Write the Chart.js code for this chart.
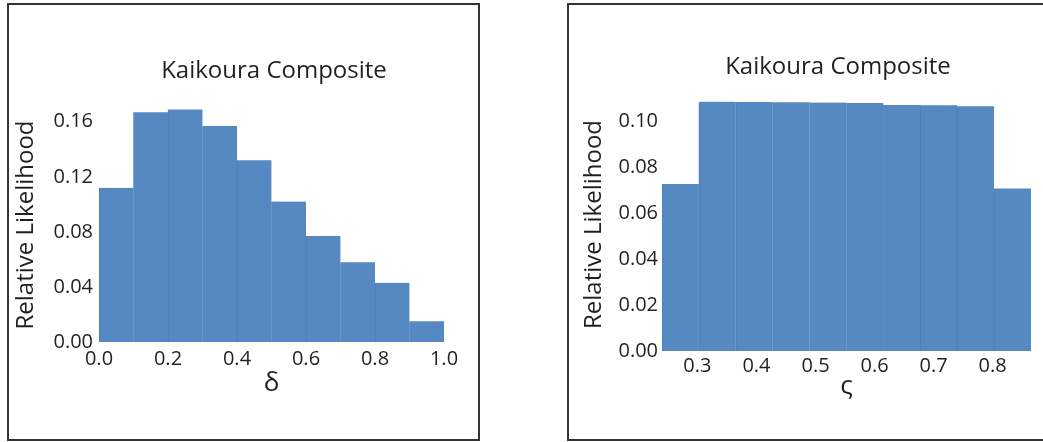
<!DOCTYPE html>
<html>
<head>
<meta charset="utf-8">
<title>Kaikoura Composite</title>
<script src="https://cdn.jsdelivr.net/npm/chart.js@4.4.0/dist/chart.umd.min.js"></script>
<style>
  html, body { margin: 0; padding: 0; background: #fff; width: 1043px; height: 442px; overflow: hidden; }
  .frame { position: absolute; border: 2px solid #333; box-sizing: border-box; }
  #frameDelta { left: 7px; top: 3px; width: 473px; height: 438px; }
  #frameZeta { left: 567px; top: 3px; width: 600px; height: 438px; }
  .wrap { position: absolute; }
  #wrapDelta { left: 9px; top: 5px; width: 469px; height: 434px; }
  #wrapZeta { left: 570px; top: 5px; width: 600px; height: 434px; }
</style>
</head>
<body>
<div class="frame" id="frameDelta"></div>
<div class="frame" id="frameZeta"></div>
<div class="wrap" id="wrapDelta"><canvas id="deltaChart" width="469" height="434"></canvas></div>
<div class="wrap" id="wrapZeta"><canvas id="zetaChart" width="600" height="434"></canvas></div>

<script>
// histogram bins (centres) and relative likelihoods
const deltaBins = [0.05, 0.15, 0.25, 0.35, 0.45, 0.55, 0.65, 0.75, 0.85, 0.95];
const deltaLikelihood = [0.112, 0.167, 0.169, 0.157, 0.132, 0.102, 0.077, 0.058, 0.043, 0.015];
const deltaXTicks = [0.0, 0.2, 0.4, 0.6, 0.8, 1.0];
const deltaYTicks = [0.00, 0.04, 0.08, 0.12, 0.16];

const zetaBins = [0.27125, 0.33375, 0.39625, 0.45875, 0.52125, 0.58375, 0.64625, 0.70875, 0.77125, 0.83375];
const zetaLikelihood = [0.0726, 0.1084, 0.1083, 0.1081, 0.1080, 0.1078, 0.1070, 0.1069, 0.1064, 0.0707];
const zetaXTicks = [0.3, 0.4, 0.5, 0.6, 0.7, 0.8];
const zetaYTicks = [0.00, 0.02, 0.04, 0.06, 0.08, 0.10];

const FONT = '"Open Sans", "Noto Sans", sans-serif';
const INK = '#231f20';
const BAR = '#5689c1';
const BAR_EDGE = '#4d7fb8';

Chart.defaults.font.family = FONT;
Chart.defaults.color = INK;

// chart title drawn on top of everything
const panelTitle = {
  id: 'panelTitle',
  afterDraw(chart, args, opts) {
    const ctx = chart.ctx;
    ctx.save();
    ctx.font = opts.size + 'px ' + FONT;
    ctx.fillStyle = INK;
    ctx.textAlign = 'center';
    ctx.textBaseline = 'alphabetic';
    ctx.fillText(opts.text, opts.x, opts.y);
    ctx.restore();
  }
};

function histogram(id, s) {
  return new Chart(document.getElementById(id), {
    type: 'bar',
    data: {
      datasets: [{
        data: s.bins.map((b, i) => ({ x: b, y: s.values[i] })),
        backgroundColor: BAR,
        borderColor: BAR_EDGE,
        borderWidth: { left: 1, right: 0, top: 0, bottom: 0 },
        barPercentage: 1,
        categoryPercentage: 1
      }]
    },
    options: {
      responsive: false,
      animation: false,
      layout: { padding: s.padding },
      plugins: {
        legend: { display: false },
        tooltip: { enabled: false },
        panelTitle: s.title
      },
      scales: {
        x: {
          type: 'linear',
          min: s.xMin,
          max: s.xMax,
          offset: false,
          grid: { display: false, drawTicks: false },
          border: { display: false },
          afterBuildTicks: sc => { sc.ticks = s.xTicks.map(v => ({ value: v })); },
          afterFit: sc => { sc.height = s.xAxisHeight; },
          ticks: {
            font: { size: 20 },
            padding: s.xTickPad,
            maxRotation: 0,
            autoSkip: false,
            callback: v => Number(v).toFixed(1)
          },
          title: {
            display: true,
            text: s.xLabel,
            font: { size: 26 },
            padding: { top: 0, bottom: s.xTitlePad }
          }
        },
        y: {
          min: 0,
          max: s.yMax,
          grid: { display: false, drawTicks: false },
          border: { display: false },
          afterBuildTicks: sc => { sc.ticks = s.yTicks.map(v => ({ value: v })); },
          afterFit: sc => { sc.width = s.yAxisWidth; },
          ticks: {
            font: { size: 20 },
            padding: s.yTickPad,
            callback: v => Number(v).toFixed(2)
          },
          title: {
            display: true,
            text: 'Relative Likelihood',
            font: { size: 24 },
            padding: { top: s.yTitlePad, bottom: 0 }
          }
        }
      }
    },
    plugins: [panelTitle]
  });
}

histogram('deltaChart', {
  bins: deltaBins,
  values: deltaLikelihood,
  xTicks: deltaXTicks,
  yTicks: deltaYTicks,
  xMin: 0, xMax: 1, yMax: 0.17,
  xLabel: 'δ',
  padding: { top: 103, right: 34, bottom: 0, left: 0 },
  yAxisWidth: 90, xAxisHeight: 97,
  xTickPad: 5, yTickPad: 6, xTitlePad: 40, yTitlePad: 3,
  title: { text: 'Kaikoura Composite', size: 24, x: 265, y: 73 }
});

histogram('zetaChart', {
  bins: zetaBins,
  values: zetaLikelihood,
  xTicks: zetaXTicks,
  yTicks: zetaYTicks,
  xMin: 0.24, xMax: 0.865, yMax: 0.11,
  xLabel: 'ς',
  padding: { top: 93, right: 139, bottom: 0, left: 0 },
  yAxisWidth: 92, xAxisHeight: 88,
  xTickPad: 3, yTickPad: 4, xTitlePad: 37, yTitlePad: 10,
  title: { text: 'Kaikoura Composite', size: 24, x: 268, y: 69 }
});
</script>
</body>
</html>
